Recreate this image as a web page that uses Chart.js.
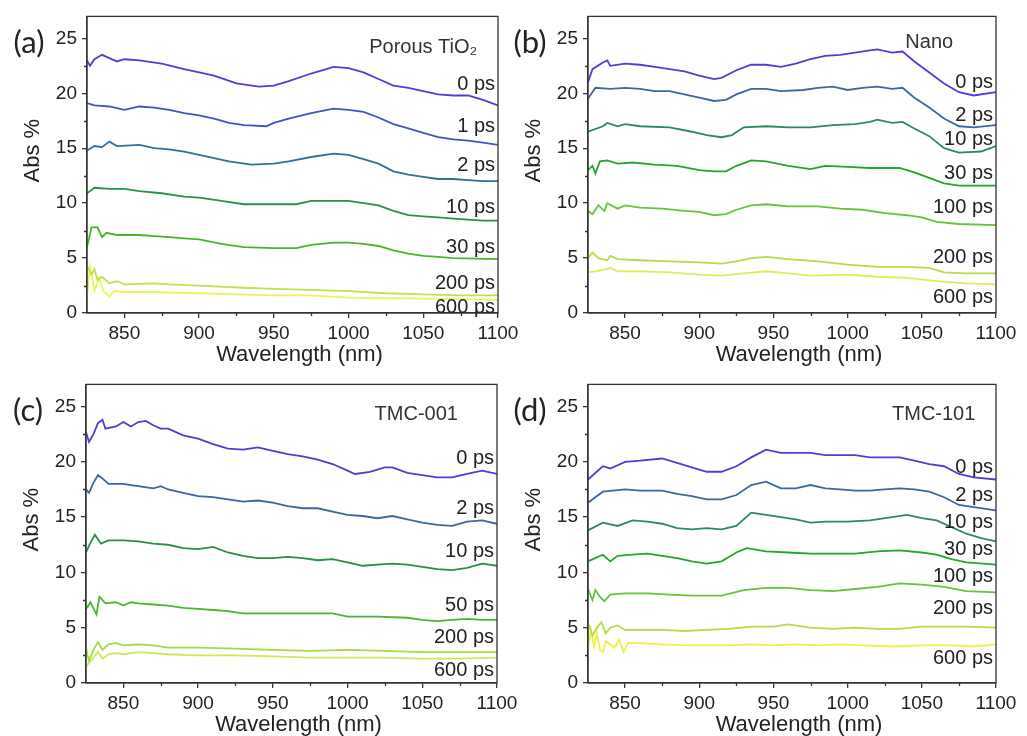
<!DOCTYPE html>
<html>
<head>
<meta charset="utf-8">
<script src="https://cdn.jsdelivr.net/npm/chart.js@4.4.1/dist/chart.umd.min.js"></script>
<style>
  html, body { margin: 0; padding: 0; background: #fff; }
  body { width: 1027px; height: 736px; position: relative; overflow: hidden; }
  canvas { position: absolute; }
</style>
</head>
<body>
<canvas id="pa" style="left:0px;top:0px"></canvas>
<canvas id="pb" style="left:505px;top:0px"></canvas>
<canvas id="pc" style="left:0px;top:368px"></canvas>
<canvas id="pd" style="left:505px;top:368px"></canvas>
<script>
// ---- axes ----
var xTicks = [850, 900, 950, 1000, 1050, 1100];
var xMinor = [875, 925, 975, 1025, 1075];
var yTicks = [0, 5, 10, 15, 20, 25];
var yMinor = [2.5, 7.5, 12.5, 17.5, 22.5];

// ---- (a) Porous TiO2 : [wavelength nm, Abs %] ----
var aLabels = ['0 ps', '1 ps', '2 ps', '10 ps', '30 ps', '200 ps', '600 ps'];
var a0 = [[825,23.0],[827,22.5],[830,23.1],[835,23.5],[840,23.2],[845,22.9],[850,23.1],[860,23.0],[875,22.7],[890,22.2],[900,21.9],[910,21.6],[925,20.9],[940,20.6],[950,20.7],[960,21.1],[975,21.8],[990,22.4],[1000,22.3],[1010,21.9],[1020,21.3],[1030,20.7],[1040,20.5],[1050,20.2],[1060,19.9],[1070,19.8],[1080,19.8],[1090,19.4],[1100,18.9]];
var a1 = [[825,19.1],[830,18.9],[840,18.8],[850,18.5],[860,18.8],[870,18.7],[880,18.5],[890,18.2],[900,18.0],[910,17.7],[920,17.3],[930,17.1],[945,17.0],[950,17.3],[960,17.7],[975,18.2],[990,18.6],[1000,18.5],[1010,18.3],[1020,17.8],[1030,17.2],[1040,16.8],[1050,16.4],[1060,16.0],[1070,15.8],[1080,15.7],[1090,15.5],[1100,15.3]];
var a2 = [[825,14.8],[830,15.2],[835,15.1],[840,15.6],[845,15.2],[860,15.3],[870,15.0],[880,14.9],[890,14.7],[900,14.4],[910,14.1],[920,13.8],[935,13.5],[950,13.6],[960,13.8],[975,14.2],[990,14.5],[1000,14.4],[1010,14.0],[1020,13.6],[1030,12.9],[1040,12.6],[1050,12.4],[1060,12.2],[1070,12.2],[1080,12.1],[1090,12.0],[1100,12.0]];
var a10 = [[825,10.9],[830,11.4],[840,11.3],[850,11.3],[860,11.1],[875,10.9],[890,10.6],[900,10.5],[915,10.2],[930,9.9],[950,9.9],[965,9.9],[975,10.2],[990,10.2],[1000,10.2],[1010,10.0],[1020,9.8],[1030,9.3],[1040,8.9],[1050,8.8],[1060,8.7],[1070,8.6],[1080,8.5],[1090,8.4],[1100,8.4]];
var a30 = [[825,6.0],[828,7.8],[832,7.8],[835,6.9],[838,7.3],[845,7.1],[860,7.1],[870,7.0],[880,6.9],[890,6.8],[900,6.7],[915,6.3],[930,6.0],[950,5.9],[965,5.9],[975,6.2],[990,6.4],[1000,6.4],[1010,6.3],[1020,6.1],[1030,5.7],[1040,5.4],[1050,5.2],[1060,5.1],[1070,5.0],[1085,4.95],[1100,4.9]];
var a200 = [[825,4.3],[828,3.5],[830,4.0],[832,3.0],[835,3.3],[840,2.7],[845,2.9],[850,2.6],[870,2.7],[880,2.6],[900,2.5],[930,2.3],[950,2.2],[975,2.1],[1000,2.0],[1025,1.8],[1050,1.7],[1075,1.6],[1100,1.6]];
var a600 = [[825,1.5],[827,4.2],[830,2.0],[833,3.2],[836,2.0],[840,1.5],[843,2.0],[850,1.9],[870,1.9],[900,1.8],[925,1.7],[950,1.6],[975,1.6],[1000,1.4],[1050,1.3],[1100,1.2]];

// ---- (b) Nano ----
var bLabels = ['0 ps', '2 ps', '10 ps', '30 ps', '100 ps', '200 ps', '600 ps'];
var b0 = [[825,21.0],[828,22.2],[835,22.8],[838,23.0],[840,22.5],[850,22.7],[860,22.6],[870,22.4],[880,22.2],[890,22.0],[900,21.6],[910,21.3],[915,21.4],[925,22.1],[935,22.6],[945,22.6],[955,22.4],[965,22.7],[975,23.1],[985,23.4],[995,23.5],[1005,23.7],[1015,23.9],[1020,24.0],[1030,23.7],[1037,23.8],[1045,22.9],[1055,21.9],[1065,20.9],[1075,20.1],[1085,19.8],[1100,20.1]];
var b2 = [[825,19.5],[830,20.5],[840,20.4],[850,20.5],[860,20.4],[870,20.2],[880,20.2],[890,19.9],[900,19.6],[910,19.3],[918,19.4],[925,19.9],[935,20.4],[945,20.4],[955,20.2],[970,20.3],[980,20.5],[990,20.6],[1000,20.3],[1010,20.5],[1020,20.6],[1030,20.4],[1037,20.5],[1045,19.6],[1055,18.7],[1065,17.7],[1075,17.0],[1085,16.9],[1100,17.1]];
var b10 = [[825,16.5],[835,17.0],[838,17.3],[845,17.0],[850,17.2],[860,17.0],[880,16.9],[895,16.5],[905,16.2],[915,16.0],[922,16.2],[930,16.9],[945,17.0],[960,16.9],[975,16.9],[990,17.1],[1005,17.2],[1015,17.4],[1020,17.6],[1030,17.3],[1037,17.4],[1045,16.8],[1055,16.1],[1065,15.0],[1075,14.6],[1090,14.7],[1100,15.2]];
var b30 = [[825,13.0],[828,13.4],[830,12.7],[833,13.8],[838,13.9],[845,13.6],[855,13.7],[870,13.5],[885,13.4],[900,13.0],[910,12.9],[918,12.9],[925,13.4],[935,13.9],[945,13.8],[960,13.4],[975,13.1],[985,13.4],[1000,13.3],[1015,13.2],[1035,13.2],[1045,12.8],[1055,12.3],[1065,11.8],[1075,11.6],[1100,11.6]];
var b100 = [[825,9.3],[828,9.0],[832,9.8],[836,9.3],[838,10.0],[845,9.5],[850,9.8],[860,9.6],[875,9.5],[890,9.3],[900,9.2],[910,8.9],[918,9.0],[925,9.4],[935,9.8],[945,9.9],[960,9.7],[980,9.7],[995,9.5],[1010,9.4],[1025,9.1],[1040,8.9],[1050,8.7],[1060,8.3],[1075,8.1],[1100,8.0]];
var b200 = [[825,5.0],[828,5.5],[832,5.0],[838,4.8],[840,5.2],[845,4.9],[860,4.8],[880,4.7],[900,4.6],[915,4.5],[925,4.7],[935,5.0],[945,5.1],[960,4.9],[980,4.7],[1000,4.4],[1020,4.2],[1040,4.2],[1055,4.1],[1065,3.7],[1080,3.6],[1100,3.6]];
var b600 = [[825,3.7],[835,3.9],[840,4.1],[845,3.8],[860,3.8],[880,3.7],[900,3.5],[915,3.4],[930,3.6],[945,3.8],[960,3.6],[975,3.4],[1000,3.5],[1020,3.3],[1040,3.2],[1060,2.9],[1080,2.7],[1100,2.6]];

// ---- (c) TMC-001 ----
var cLabels = ['0 ps', '2 ps', '10 ps', '50 ps', '200 ps', '600 ps'];
var c0 = [[825,22.7],[827,21.8],[830,22.5],[833,23.5],[836,23.8],[838,23.0],[845,23.2],[850,23.6],[855,23.2],[860,23.6],[865,23.7],[870,23.3],[875,23.0],[880,23.0],[890,22.4],[900,22.1],[910,21.6],[920,21.2],[930,21.1],[940,21.3],[950,21.0],[960,20.7],[970,20.5],[980,20.2],[990,19.8],[1000,19.2],[1005,18.9],[1015,19.1],[1025,19.5],[1030,19.5],[1040,19.0],[1050,18.8],[1060,18.6],[1070,18.6],[1080,18.9],[1090,19.2],[1100,18.9]];
var c2 = [[825,17.5],[827,17.2],[830,18.1],[833,18.8],[836,18.5],[840,18.0],[850,18.0],[855,17.9],[860,17.8],[870,17.6],[875,17.8],[880,17.5],[890,17.2],[900,16.9],[910,16.8],[920,16.6],[930,16.4],[940,16.5],[950,16.3],[960,16.0],[970,15.8],[980,15.8],[990,15.5],[1000,15.2],[1010,15.1],[1020,14.9],[1030,15.1],[1040,14.8],[1050,14.5],[1060,14.3],[1070,14.2],[1080,14.6],[1090,14.7],[1100,14.4]];
var c10 = [[825,11.8],[828,12.7],[831,13.4],[835,12.6],[840,12.9],[850,12.9],[860,12.8],[870,12.6],[880,12.5],[890,12.2],[900,12.1],[910,12.3],[920,11.8],[930,11.5],[940,11.3],[950,11.3],[960,11.4],[970,11.3],[980,11.1],[990,11.2],[1000,10.9],[1010,10.6],[1020,10.7],[1030,10.8],[1040,10.7],[1050,10.5],[1060,10.3],[1070,10.2],[1080,10.4],[1090,10.8],[1100,10.6]];
var c50 = [[825,6.7],[828,7.3],[832,6.2],[834,7.8],[838,7.2],[845,7.3],[850,7.0],[855,7.3],[860,7.2],[870,7.1],[880,7.0],[890,6.8],[900,6.7],[910,6.6],[920,6.5],[930,6.3],[950,6.3],[970,6.3],[990,6.3],[1000,6.0],[1020,6.0],[1040,5.9],[1050,5.7],[1060,5.6],[1070,5.7],[1080,5.8],[1090,5.7],[1100,5.7]];
var c200 = [[825,3.2],[827,2.0],[830,3.0],[833,3.7],[836,3.0],[840,3.5],[845,3.6],[850,3.4],[860,3.5],[870,3.4],[880,3.2],[900,3.2],[925,3.1],[950,3.0],[975,2.9],[1000,3.0],[1025,2.9],[1050,2.8],[1075,2.8],[1100,2.8]];
var c600 = [[825,1.5],[827,1.8],[830,2.3],[833,2.8],[836,2.2],[840,2.6],[845,2.7],[850,2.6],[860,2.8],[870,2.7],[880,2.6],[900,2.5],[925,2.5],[950,2.4],[975,2.3],[1000,2.3],[1025,2.3],[1050,2.2],[1075,2.2],[1100,2.3]];

// ---- (d) TMC-101 ----
var dLabels = ['0 ps', '2 ps', '10 ps', '30 ps', '100 ps', '200 ps', '600 ps'];
var d0 = [[825,18.4],[835,19.6],[840,19.4],[850,20.0],[860,20.1],[875,20.3],[885,19.9],[895,19.5],[905,19.1],[915,19.1],[925,19.6],[935,20.4],[945,21.1],[955,20.8],[965,20.8],[975,20.8],[985,20.6],[995,20.6],[1005,20.6],[1015,20.4],[1025,20.4],[1035,20.4],[1045,20.1],[1055,19.8],[1065,19.6],[1075,18.9],[1085,18.6],[1100,18.4]];
var d2 = [[825,16.3],[835,17.3],[850,17.5],[860,17.4],[875,17.4],[885,17.1],[895,16.9],[905,16.6],[915,16.6],[925,17.0],[935,17.9],[945,18.2],[955,17.6],[965,17.6],[975,17.9],[985,17.6],[995,17.5],[1005,17.4],[1015,17.4],[1025,17.5],[1035,17.6],[1045,17.5],[1055,17.3],[1065,16.8],[1075,16.1],[1085,15.9],[1100,15.6]];
var d10 = [[825,13.8],[835,14.5],[845,14.2],[855,14.7],[865,14.6],[875,14.4],[885,14.0],[895,13.9],[905,14.0],[915,13.9],[925,14.2],[935,15.4],[945,15.2],[955,15.0],[965,14.8],[975,14.5],[985,14.6],[1000,14.6],[1015,14.7],[1030,15.0],[1040,15.2],[1050,14.9],[1060,14.7],[1070,14.1],[1080,13.5],[1090,13.1],[1100,12.8]];
var d30 = [[825,11.0],[835,11.6],[840,11.0],[845,11.5],[855,11.6],[865,11.7],[875,11.5],[885,11.3],[895,11.0],[905,10.8],[915,11.0],[925,11.8],[932,12.2],[945,11.9],[960,11.8],[975,11.7],[990,11.7],[1005,11.7],[1020,11.9],[1035,12.0],[1050,11.8],[1060,11.6],[1070,11.2],[1080,10.9],[1100,10.7]];
var d100 = [[825,8.5],[828,7.5],[830,8.4],[833,7.8],[836,7.4],[840,8.0],[850,8.1],[865,8.1],[880,8.0],[895,7.9],[905,7.9],[915,7.9],[930,8.4],[945,8.6],[960,8.6],[975,8.4],[990,8.3],[1005,8.5],[1020,8.7],[1035,9.0],[1050,8.9],[1065,8.7],[1080,8.3],[1100,8.2]];
var d200 = [[825,5.5],[828,4.3],[831,5.0],[834,5.5],[837,4.5],[840,5.0],[845,5.2],[850,4.8],[860,4.8],[875,4.8],[890,4.7],[905,4.8],[920,4.9],[935,5.1],[950,5.1],[960,5.3],[975,5.0],[990,4.9],[1005,5.0],[1020,4.9],[1035,4.9],[1050,5.1],[1065,5.1],[1080,5.1],[1100,5.0]];
var d600 = [[825,3.2],[827,4.8],[829,3.3],[831,4.5],[833,3.0],[835,2.8],[837,3.8],[840,3.5],[843,3.2],[846,3.9],[849,2.8],[852,3.6],[860,3.6],[875,3.5],[890,3.4],[905,3.4],[920,3.4],[935,3.5],[950,3.4],[965,3.5],[980,3.4],[995,3.5],[1010,3.4],[1030,3.3],[1050,3.4],[1070,3.4],[1085,3.3],[1100,3.5]];

var TXT = '#222';
var AXIS = '#333';
var FONT = '"Liberation Sans", Arial, sans-serif';

// draws frame, minor ticks, axis titles and all in-plot annotations
var panelText = {
    id: 'panelText',
    afterDraw: function (chart, args, o) {
        var ctx = chart.ctx, ca = chart.chartArea;
        var xs = chart.scales.x, ys = chart.scales.y;
        ctx.save();
        ctx.strokeStyle = AXIS;
        ctx.lineWidth = 1.3;
        ctx.strokeRect(ca.left, ca.top, ca.right - ca.left, ca.bottom - ca.top);
        ctx.beginPath();
        xMinor.forEach(function (v) {
            var px = Math.round(xs.getPixelForValue(v)) + 0.5;
            ctx.moveTo(px, ca.bottom);
            ctx.lineTo(px, ca.bottom + 3);
        });
        yMinor.forEach(function (v) {
            var py = Math.round(ys.getPixelForValue(v)) + 0.5;
            ctx.moveTo(ca.left, py);
            ctx.lineTo(ca.left - 3, py);
        });
        ctx.stroke();

        ctx.fillStyle = TXT;
        // axis titles
        ctx.font = '22px ' + FONT;
        ctx.textAlign = 'center';
        ctx.textBaseline = 'middle';
        ctx.fillText('Wavelength (nm)', (ca.left + ca.right) / 2 + 7, ca.bottom + 42);
        ctx.save();
        ctx.translate(ca.left - 54, (ca.top + ca.bottom) / 2 - 14);
        ctx.rotate(-Math.PI / 2);
        ctx.fillText('Abs %', 0, 0);
        ctx.restore();

        // panel letter
        ctx.font = '31px Lato, "Open Sans", sans-serif';
        ctx.fillText(o.letter, ca.left - 58, ca.top + 27);

        // sample name
        ctx.font = '20px ' + FONT;
        ctx.fillStyle = '#333';
        ctx.fillText(o.name, xs.getPixelForValue(o.nameX), ys.getPixelForValue(o.nameY));

        // delay labels
        ctx.fillStyle = TXT;
        ctx.textAlign = 'right';
        o.labels.forEach(function (t, i) {
            ctx.fillText(t, xs.getPixelForValue(1098), ys.getPixelForValue(o.labelY[i]));
        });
        ctx.restore();
    }
};

function makePanel(id, w, h, area, series, colors, opts) {
    var cv = document.getElementById(id);
    cv.width = w; cv.height = h;
    cv.style.width = w + 'px'; cv.style.height = h + 'px';
    var datasets = series.map(function (s, i) {
        return {
            data: s.map(function (p) { return { x: p[0], y: p[1] }; }),
            borderColor: colors[i],
            borderWidth: 1.8,
            pointRadius: 0,
            tension: 0,
            fill: false
        };
    });
    return new Chart(cv, {
        type: 'line',
        data: { datasets: datasets },
        plugins: [panelText],
        options: {
            responsive: false,
            animation: false,
            devicePixelRatio: 1,
            layout: { padding: { left: 0, top: area.top, right: w - area.right, bottom: 0 } },
            plugins: {
                legend: { display: false },
                tooltip: { enabled: false },
                panelText: opts
            },
            scales: {
                x: {
                    type: 'linear', min: 825, max: 1100,
                    afterBuildTicks: function (s) { s.ticks = xTicks.map(function (v) { return { value: v }; }); },
                    afterFit: function (s) { s.height = h - area.bottom; },
                    border: { display: true, color: AXIS, width: 1.3 },
                    grid: { drawOnChartArea: false, drawTicks: true, tickLength: 5, color: AXIS, lineWidth: 1.3 },
                    ticks: { color: TXT, padding: 4, maxRotation: 0, font: { family: FONT, size: 19 },
                             callback: function (v) { return String(v); } }
                },
                y: {
                    type: 'linear', min: 0, max: 27,
                    afterBuildTicks: function (s) { s.ticks = yTicks.map(function (v) { return { value: v }; }); },
                    afterFit: function (s) { s.width = area.left; },
                    border: { display: true, color: AXIS, width: 1.3 },
                    grid: { drawOnChartArea: false, drawTicks: true, tickLength: 5, color: AXIS, lineWidth: 1.3 },
                    ticks: { color: TXT, padding: 5, font: { family: FONT, size: 19 },
                             callback: function (v) { return String(v); } }
                }
            }
        }
    });
}

var colA = ['#4b40d6', '#3e55bd', '#336f99', '#27934a', '#47b52c', '#c0e24a', '#eef25a'];
var colB = ['#4a40d4', '#3a67a9', '#2c8a5c', '#25a52e', '#68c23a', '#b6dd45', '#dcee5c'];
var colC = ['#4a40d4', '#3c64a8', '#2a8e48', '#48b830', '#a4da42', '#cde858'];
var colD = ['#4a40d4', '#3a67a9', '#2e8a5c', '#25a52e', '#68c23a', '#b6dd45', '#eef044'];

makePanel('pa', 530, 370, { left: 87, right: 498, top: 14, bottom: 313 },
    [a0, a1, a2, a10, a30, a200, a600], colA,
    { letter: '(a)', name: 'Porous TiO\u2082', nameX: 1050, nameY: 24.2, labels: aLabels,
      labelY: [20.76, 16.97, 13.45, 9.57, 5.96, 2.71, 0.54] });
makePanel('pb', 522, 370, { left: 83, right: 491, top: 14, bottom: 313 },
    [b0, b2, b10, b30, b100, b200, b600], colB,
    { letter: '(b)', name: 'Nano', nameX: 1055, nameY: 24.6, labels: bLabels,
      labelY: [21.0, 17.96, 15.8, 12.7, 9.57, 5.05, 1.44] });
makePanel('pc', 530, 368, { left: 86, right: 497, top: 15, bottom: 315 },
    [c0, c2, c10, c50, c200, c600], colC,
    { letter: '(c)', name: 'TMC-001', nameX: 1046, nameY: 24.3, labels: cLabels,
      labelY: [20.3, 15.8, 11.9, 7.0, 4.1, 1.17] });
makePanel('pd', 522, 368, { left: 83, right: 491, top: 15, bottom: 315 },
    [d0, d2, d10, d30, d100, d200, d600], colD,
    { letter: '(d)', name: 'TMC-101', nameX: 1058, nameY: 24.3, labels: dLabels,
      labelY: [19.5, 17.0, 14.5, 12.1, 9.6, 6.7, 2.2] });
</script>
</body>
</html>
